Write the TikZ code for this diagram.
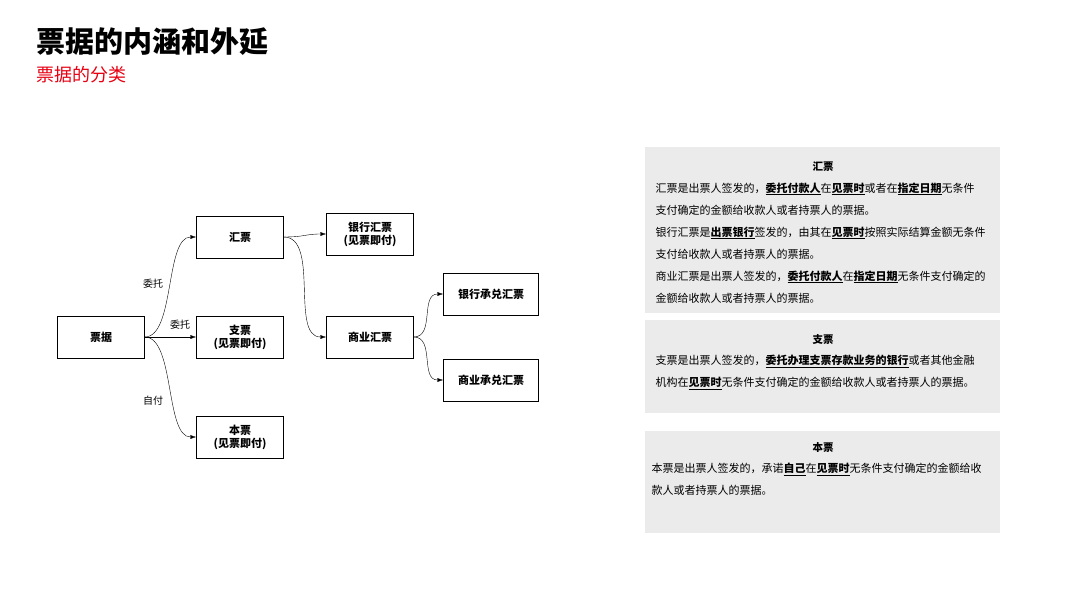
\documentclass[tikz,border=0pt]{standalone}
\usepackage{fontspec}
\setmainfont{Noto Sans CJK SC}
\usetikzlibrary{positioning, arrows.meta}
\definecolor{titlered}{HTML}{E60012}
\definecolor{panelgray}{HTML}{EBEBEB}
\tikzstyle{Box} = [draw, thin, minimum width=87pt, minimum height=42pt,
	align=center, font=\fontsize{11}{13}\selectfont\bfseries]
\tikzstyle{Arrow} = [thin, -{Latex[length=6pt, width=4pt]}]
\tikzstyle{Panel} = [fill=panelgray, draw=none, minimum width=355pt,
	anchor=north west, inner sep=0pt]
\tikzstyle{Body} = [align=left, anchor=north west,
	font=\fontsize{11}{22}\selectfont]
\newcommand{\ul}[1]{\underline{\textbf{#1}}}
\begin{document}
\begin{tikzpicture}[x=1pt, y=-1pt]
	\useasboundingbox (0,0) rectangle (1080,608);
	%title:
		\node [anchor=west, font=\fontsize{29}{31}\selectfont\bfseries] (title) at (33,42) {票据的内涵和外延};
		\node [anchor=west, text=titlered, font=\fontsize{18}{20}\selectfont] (subtitle) at (33,75) {票据的分类};
	%nodes:
		\node [Box] (1) at (101,337) {票据};
		\node [Box] (2) at (240,237) {汇票};
		\node [Box] (3) at (240,337) {支票\\(见票即付)};
		\node [Box] (4) at (240,437) {本票\\(见票即付)};
		\node [Box] (5) at (370,234) {银行汇票\\(见票即付)};
		\node [Box] (6) at (370,337) {商业汇票};
		\node [Box, minimum width=95pt] (7) at (491,294) {银行承兑汇票};
		\node [Box, minimum width=95pt] (8) at (491,380) {商业承兑汇票};
	%edges:
		\draw[Arrow] (1.east) .. controls (175,337) and (165,237) .. (2.west);
		\draw[Arrow] (1.east) -- (3.west);
		\draw[Arrow] (1.east) .. controls (175,337) and (165,437) .. (4.west);
		\draw[Arrow] (2.east) .. controls (305,237) and (305,234) .. (5.west);
		\draw[Arrow] (2.east) .. controls (320,237) and (290,337) .. (6.west);
		\draw[Arrow] (6.east) .. controls (435,337) and (420,294) .. (7.west);
		\draw[Arrow] (6.east) .. controls (435,337) and (420,380) .. (8.west);
	%labels:
		\node [font=\fontsize{10}{12}\selectfont] (l1) at (153,284) {委托};
		\node [font=\fontsize{10}{12}\selectfont] (l2) at (180,325) {委托};
		\node [font=\fontsize{10}{12}\selectfont] (l3) at (153,401) {自付};
	%panels:
		\node [Panel, minimum height=166pt] (p1) at (645,147) {};
		\node [Panel, minimum height=93pt] (p2) at (645,320) {};
		\node [Panel, minimum height=102pt] (p3) at (645,431) {};
		\node [font=\fontsize{10.5}{12}\selectfont\bfseries] (h1) at (823,167) {汇票};
		\node [Body] (b1) at (652,179) {汇票是出票人签发的，\ul{委托付款人}在\ul{见票时}或者在\ul{指定日期}无条件\\
			支付确定的金额给收款人或者持票人的票据。\\
			银行汇票是\ul{出票银行}签发的，由其在\ul{见票时}按照实际结算金额无条件\\
			支付给收款人或者持票人的票据。\\
			商业汇票是出票人签发的，\ul{委托付款人}在\ul{指定日期}无条件支付确定的\\
			金额给收款人或者持票人的票据。};
		\node [font=\fontsize{10.5}{12}\selectfont\bfseries] (h2) at (823,340) {支票};
		\node [Body] (b2) at (652,352) {支票是出票人签发的，\ul{委托办理支票存款业务的银行}或者其他金融\\
			机构在\ul{见票时}无条件支付确定的金额给收款人或者持票人的票据。};
		\node [font=\fontsize{10.5}{12}\selectfont\bfseries] (h3) at (823,448) {本票};
		\node [Body] (b3) at (648,460) {本票是出票人签发的，承诺\ul{自己}在\ul{见票时}无条件支付确定的金额给收\\
			款人或者持票人的票据。};
\end{tikzpicture}
\end{document}
